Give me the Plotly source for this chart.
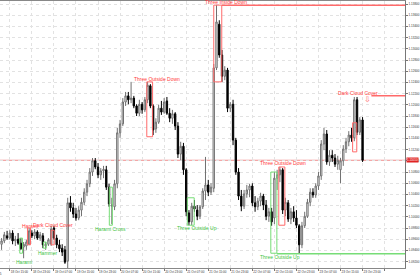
import plotly.graph_objects as go

# ---- hourly OHLC data ----
open_ = [1.0951, 1.0957, 1.0966, 1.0962, 1.0971, 1.0957, 1.0960, 1.0953, 1.0946, 1.0948,
         1.0951, 1.0971, 1.0966, 1.0973, 1.0962, 1.0966, 1.0948, 1.0951, 1.0951, 1.0980,
         1.0962, 1.0950, 1.0944, 1.0941, 1.0921, 1.1025, 1.1016, 1.1005, 1.0998, 1.1012,
         1.1026, 1.1044, 1.1059, 1.1080, 1.1100, 1.1089, 1.1075, 1.1082, 1.1084, 1.1053,
         1.1019, 1.1018, 1.1059, 1.1150, 1.1166, 1.1205, 1.1216, 1.1209, 1.1212, 1.1198,
         1.1185, 1.1201, 1.1191, 1.1209, 1.1234, 1.1198, 1.1157, 1.1169, 1.1194, 1.1187,
         1.1207, 1.1185, 1.1176, 1.1184, 1.1162, 1.1112, 1.1126, 1.1084, 1.1007, 1.0991,
         1.1019, 1.1012, 1.1001, 1.1018, 1.1046, 1.1057, 1.1044, 1.1051, 1.1266, 1.1344,
         1.1289, 1.1251, 1.1262, 1.1194, 1.1201, 1.1137, 1.1080, 1.1037, 1.1019, 1.1041,
         1.1048, 1.1055, 1.1025, 1.1018, 1.1028, 1.1037, 1.1021, 1.1001, 1.1009, 1.0998,
         1.1069, 1.1075, 1.1084, 1.1012, 1.1025, 1.0996, 1.1009, 1.0998, 1.0984, 1.0950,
         1.0984, 1.1001, 1.1026, 1.1044, 1.1039, 1.1055, 1.1073, 1.1130, 1.1148, 1.1098,
         1.1110, 1.1105, 1.1094, 1.1084, 1.1100, 1.1121, 1.1134, 1.1146, 1.1141, 1.1209,
         1.1151, 1.1173]
high = [1.0962, 1.0973, 1.0975, 1.0976, 1.0976, 1.0966, 1.0971, 1.0962, 1.0955, 1.0959,
        1.0980, 1.0976, 1.0978, 1.0976, 1.0973, 1.0971, 1.0955, 1.0962, 1.0984, 1.0984,
        1.0968, 1.0959, 1.0951, 1.0948, 1.1034, 1.1037, 1.1025, 1.1016, 1.1019, 1.1034,
        1.1051, 1.1066, 1.1087, 1.1105, 1.1105, 1.1096, 1.1087, 1.1091, 1.1091, 1.1059,
        1.1034, 1.1066, 1.1159, 1.1173, 1.1212, 1.1223, 1.1223, 1.1241, 1.1216, 1.1201,
        1.1209, 1.1205, 1.1214, 1.1241, 1.1237, 1.1201, 1.1176, 1.1200, 1.1207, 1.1212,
        1.1214, 1.1194, 1.1191, 1.1187, 1.1169, 1.1134, 1.1132, 1.1087, 1.1012, 1.1025,
        1.1030, 1.1021, 1.1021, 1.1051, 1.1107, 1.1066, 1.1060, 1.1273, 1.1378, 1.1351,
        1.1298, 1.1269, 1.1266, 1.1205, 1.1209, 1.1141, 1.1087, 1.1048, 1.1048, 1.1057,
        1.1059, 1.1060, 1.1037, 1.1034, 1.1043, 1.1041, 1.1030, 1.1016, 1.1016, 1.1080,
        1.1084, 1.1089, 1.1087, 1.1034, 1.1030, 1.1016, 1.1019, 1.1012, 1.0987, 1.0991,
        1.1009, 1.1032, 1.1051, 1.1051, 1.1060, 1.1080, 1.1137, 1.1159, 1.1155, 1.1119,
        1.1119, 1.1112, 1.1109, 1.1105, 1.1128, 1.1141, 1.1153, 1.1159, 1.1214, 1.1214,
        1.1178, 1.1178]
low = [1.0941, 1.0953, 1.0959, 1.0959, 1.0951, 1.0948, 1.0950, 1.0941, 1.0926, 1.0941,
       1.0950, 1.0962, 1.0960, 1.0959, 1.0957, 1.0944, 1.0941, 1.0948, 1.0948, 1.0959,
       1.0944, 1.0937, 1.0930, 1.0916, 1.0907, 1.1009, 1.0998, 1.0993, 1.0994, 1.1001,
       1.1021, 1.1037, 1.1053, 1.1073, 1.1085, 1.1069, 1.1066, 1.1069, 1.1048, 1.1018,
       1.0987, 1.1012, 1.1051, 1.1141, 1.1162, 1.1198, 1.1201, 1.1203, 1.1194, 1.1180,
       1.1180, 1.1184, 1.1187, 1.1203, 1.1194, 1.1146, 1.1150, 1.1166, 1.1182, 1.1184,
       1.1182, 1.1169, 1.1166, 1.1155, 1.1105, 1.1101, 1.1075, 1.1001, 1.0985, 1.0985,
       1.1009, 1.0994, 1.0996, 1.1014, 1.1030, 1.1037, 1.1039, 1.1044, 1.1262, 1.1284,
       1.1241, 1.1244, 1.1187, 1.1187, 1.1128, 1.1075, 1.1030, 1.1010, 1.1014, 1.1034,
       1.1035, 1.1019, 1.1009, 1.1012, 1.1019, 1.1012, 1.0994, 1.0991, 1.0984, 1.0987,
       1.1048, 1.1062, 1.1005, 1.1001, 1.0991, 1.0987, 1.0991, 1.0980, 1.0935, 1.0944,
       1.0980, 1.0998, 1.1019, 1.1034, 1.1034, 1.1048, 1.1066, 1.1119, 1.1093, 1.1091,
       1.1098, 1.1089, 1.1084, 1.1060, 1.1091, 1.1114, 1.1126, 1.1134, 1.1135, 1.1146,
       1.1146, 1.1098]
close = [1.0957, 1.0968, 1.0962, 1.0971, 1.0957, 1.0960, 1.0953, 1.0943, 1.0951, 1.0955,
         1.0975, 1.0966, 1.0973, 1.0962, 1.0968, 1.0950, 1.0951, 1.0959, 1.0978, 1.0962,
         1.0950, 1.0943, 1.0937, 1.0919, 1.1025, 1.1016, 1.1005, 1.0998, 1.1012, 1.1026,
         1.1044, 1.1059, 1.1080, 1.1100, 1.1089, 1.1075, 1.1082, 1.1085, 1.1053, 1.1023,
         1.1021, 1.1059, 1.1150, 1.1166, 1.1205, 1.1216, 1.1209, 1.1212, 1.1198, 1.1185,
         1.1201, 1.1191, 1.1209, 1.1235, 1.1198, 1.1155, 1.1169, 1.1194, 1.1187, 1.1205,
         1.1185, 1.1176, 1.1184, 1.1162, 1.1112, 1.1126, 1.1084, 1.1009, 1.0991, 1.1019,
         1.1014, 1.1001, 1.1018, 1.1046, 1.1057, 1.1044, 1.1053, 1.1266, 1.1348, 1.1289,
         1.1251, 1.1262, 1.1194, 1.1201, 1.1137, 1.1080, 1.1037, 1.1019, 1.1041, 1.1048,
         1.1055, 1.1025, 1.1018, 1.1028, 1.1037, 1.1021, 1.1001, 1.1009, 1.0991, 1.1069,
         1.1075, 1.1084, 1.1012, 1.1026, 1.0996, 1.1009, 1.0998, 1.0985, 1.0950, 1.0984,
         1.1001, 1.1026, 1.1044, 1.1039, 1.1055, 1.1073, 1.1130, 1.1148, 1.1098, 1.1110,
         1.1105, 1.1094, 1.1101, 1.1100, 1.1121, 1.1134, 1.1146, 1.1141, 1.1209, 1.1151,
         1.1173, 1.1101]

bar_index = list(range(len(close)))

x_tick_bars = [3, 11, 19, 27, 35, 43, 51, 59, 67, 75, 83, 91, 99, 107, 115, 123, 131, 139]
x_tick_labels = ["18 Oct 15:00", "18 Oct 23:00", "19 Oct 07:00", "19 Oct 15:00",
                 "19 Oct 23:00", "20 Oct 07:00", "20 Oct 15:00", "20 Oct 23:00",
                 "21 Oct 07:00", "21 Oct 15:00", "21 Oct 23:00", "22 Oct 07:00",
                 "22 Oct 15:00", "22 Oct 23:00", "23 Oct 07:00", "23 Oct 15:00",
                 "23 Oct 23:00", ""]
y_tick_values = [1.138, 1.136, 1.134, 1.132, 1.130, 1.128, 1.126, 1.124, 1.122, 1.120,
                 1.118, 1.116, 1.114, 1.112, 1.110, 1.108, 1.106, 1.104, 1.102, 1.100,
                 1.098, 1.096, 1.094, 1.092]
y_tick_labels = [f"{v:.5f}" for v in y_tick_values]

# ---- candlestick pattern markup ----
pattern_names = ["Harami", "Harami", "Dark Cloud Cover", "Hammer", "Harami Cross",
                 "Three Outside Down", "Three Outside Up", "Three Inside Down",
                 "Three Outside Up", "Three Outside Down", "Dark Cloud Cover"]
pattern_bullish = [True, False, False, True, True, False, True, False, True, False, False]
pattern_start = [6.6, 9.4, 18.0, 15.2, 39.1, 52.7, 67.4, 77.0, 97.7, 100.6, 127.4]
pattern_end = [7.6, 10.5, 19.1, 16.2, 40.2, 54.8, 69.9, 79.9, 99.9, 102.8, 128.9]
pattern_top = [1.0962, 1.0980, 1.0976, 1.0955, 1.1053, 1.1241, 1.1034, 1.1378, 1.1080, 1.1089, 1.1168]
pattern_bottom = [1.0935, 1.0950, 1.0950, 1.0944, 1.0985, 1.1143, 1.0985, 1.1241, 1.0935, 1.0985, 1.1116]
label_bar = [8.0, 10.2, 18.7, 16.9, 39.5, 56.3, 70.9, 81.3, 101.0, 102.0, 129.2]
label_price = [1.0919, 1.0984, 1.0985, 1.0935, 1.0978, 1.1246, 1.0980, 1.1384, 1.0928, 1.1096, 1.1221]

level_price = [1.1378, 1.1216, 1.0934]
level_from = [79.9, 134.2, 99.9]
level_bullish = [False, False, True]

RED_TXT, RED_LN = "#ff3c3c", "#ff6a6a"
GRN_TXT, GRN_LN = "#3fc43f", "#77dd77"
X_MAX = 146.4

fig = go.Figure(go.Candlestick(
    x=bar_index, open=open_, high=high, low=low, close=close,
    increasing=dict(line=dict(color="#707070", width=1), fillcolor="#ffffff"),
    decreasing=dict(line=dict(color="#000000", width=1), fillcolor="#000000"),
    whiskerwidth=0, showlegend=False, hoverinfo="skip"))

shapes = []
annotations = []
# current price line
shapes.append(dict(type="line", xref="paper", x0=0, x1=1, yref="y", y0=close[-1], y1=close[-1],
                   line=dict(color="#f08a8a", width=1), layer="below"))
for n, bull, a, b, t, bt, lx, ly in zip(pattern_names, pattern_bullish, pattern_start, pattern_end,
                                        pattern_top, pattern_bottom, label_bar, label_price):
    shapes.append(dict(type="rect", xref="x", yref="y", x0=a, x1=b, y0=bt, y1=t,
                       line=dict(color=GRN_LN if bull else RED_LN, width=1),
                       fillcolor="rgba(0,0,0,0)", layer="above"))
    annotations.append(dict(x=lx, y=ly, xref="x", yref="y", text=n, showarrow=False,
                            font=dict(size=5, color=GRN_TXT if bull else RED_TXT,
                                      family="Liberation Sans"),
                            xanchor="center", yanchor="middle"))
for p, f, bull in zip(level_price, level_from, level_bullish):
    shapes.append(dict(type="line", xref="x", yref="y", x0=f, x1=X_MAX, y0=p, y1=p,
                       line=dict(color=GRN_LN if bull else RED_LN, width=1.5)))
# sell arrow
annotations.append(dict(x=132.8, y=1.1209, xref="x", yref="y", text="⇩", showarrow=False,
                        font=dict(size=8, color=RED_LN, family="DejaVu Sans")))
# price tag
annotations.append(dict(x=1, y=close[-1], xref="paper", yref="y", text=f"{close[-1]:.5f}",
                        showarrow=False, xanchor="left", xshift=1, bgcolor="#e02424",
                        borderpad=0, font=dict(size=3, color="white", family="Liberation Sans")))
# clipped first date label
annotations.append(dict(x=0, y=0, xref="paper", yref="paper", text="18 Oct 2025",
                        showarrow=False, xanchor="right", yanchor="top", xshift=4, yshift=-2,
                        font=dict(size=3, color="#333", family="Liberation Sans")))

fig.update_layout(
    width=420, height=280, margin=dict(l=0, r=9, t=1, b=12),
    paper_bgcolor="white", plot_bgcolor="white",
    shapes=shapes, annotations=annotations,
    xaxis=dict(range=[-0.57, X_MAX], rangeslider=dict(visible=False),
               tickvals=x_tick_bars, ticktext=x_tick_labels, tickangle=0,
               ticklabelposition="outside right",
               tickfont=dict(size=3, color="#333", family="Liberation Sans"),
               ticks="outside", ticklen=2, tickcolor="#777",
               showgrid=True, gridcolor="#e2e2e2", griddash="dot", gridwidth=1,
               showline=True, linecolor="#888", linewidth=1, mirror=True, zeroline=False),
    yaxis=dict(range=[1.09086, 1.13854], side="right",
               tickvals=y_tick_values, ticktext=y_tick_labels,
               tickfont=dict(size=3, color="#333", family="Liberation Sans"),
               ticks="outside", ticklen=2, tickcolor="#777",
               showgrid=True, gridcolor="#e2e2e2", griddash="dot", gridwidth=1,
               showline=True, linecolor="#777", linewidth=1, zeroline=False),
)

fig.write_html("out.html")
